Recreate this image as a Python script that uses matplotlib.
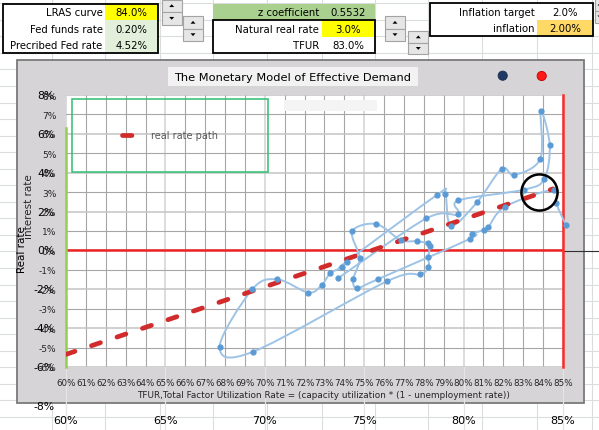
import numpy as np
import matplotlib
matplotlib.use("Agg")
import matplotlib.pyplot as plt
from matplotlib.path import Path
from matplotlib.patches import PathPatch, Rectangle, Circle, Polygon

plt.rcParams['font.family'] = ['DejaVu Sans']

W, H = 599, 431

# ---- chart data (TFUR %, real rate %) ----
tfur = [73.70, 78.13, 79.73, 79.73, 83.05, 84.06, 84.33, 83.88, 83.86, 82.55,
        81.92, 80.69, 79.37, 79.08, 78.68, 74.12, 73.90, 73.30, 72.86, 72.19,
        70.63, 69.37, 67.73, 69.42, 76.16, 77.83, 78.23, 78.23, 78.30, 78.20,
        77.64, 76.83, 75.60, 74.40, 74.77, 74.45, 74.65, 75.71, 80.30, 80.40,
        81.03, 81.24, 82.10, 84.53, 84.65, 85.15]
real_rate = [-1.42, 1.65, 1.85, 2.57, 3.13, 3.69, 5.43, 7.17, 4.72, 3.88,
             4.20, 2.50, 1.27, 2.92, 2.87, -0.57, -0.86, -1.17, -1.78, -2.17,
             -1.49, -2.00, -4.95, -5.21, -1.58, -1.22, -0.83, -0.35, 0.25, 0.38,
             0.47, 0.54, 1.36, 0.98, -0.40, -1.47, -1.93, -1.47, 0.59, 0.84,
             1.06, 1.19, 2.26, 3.13, 2.45, 1.30]

path_x = [60.0, 84.5]          # real rate path
path_y = [-5.35, 3.17]
lras_x = [85.0, 85.0]
lras_y = [-6.0, 8.0]
green_x = [60.0, 60.0]
green_y = [-6.0, 6.3]
circle_x = [83.8]
circle_y = [3.0]

x_ticks = list(range(60, 86))
y_ticks = list(range(-6, 9))
back_y_ticks = list(range(-8, 9, 2))
back_x_ticks = list(range(60, 86, 5))

t1_labels = ["LRAS curve", "Fed funds rate", "Precribed Fed rate"]
t1_values = ["84.0%", "0.20%", "4.52%"]
t2_labels = ["z coefficient", "Natural real rate", "TFUR"]
t2_values = ["0.5532", "3.0%", "83.0%"]
t3_labels = ["Inflation target", "inflation"]
t3_values = ["2.0%", "2.00%"]

fig = plt.figure(figsize=(5.99, 4.31), dpi=100)
bg = fig.add_axes([0, 0, 1, 1])
bg.set_xlim(0, W)
bg.set_ylim(H, 0)
bg.axis('off')

# worksheet grid
for y in np.arange(4.2, H, 16.55):
    bg.plot([0, W], [y, y], color='#dadcdd', lw=0.8, zorder=0)
for x in [51.7, 105, 160, 213.3, 266.7, 321.7, 375, 428.3, 482, 536.7, 591.7]:
    bg.plot([x, x], [0, H], color='#dadcdd', lw=0.8, zorder=0)

fs_cell = 7.3


def table(x0, xs, x1, y0, rh, labels, values, fills, box_from=0):
    for i, (lab, val) in enumerate(zip(labels, values)):
        y = y0 + rh * i
        bg.add_patch(Rectangle((x0, y), xs - x0, rh, fc=fills[i][0], ec='none', zorder=1))
        bg.add_patch(Rectangle((xs, y), x1 - xs, rh, fc=fills[i][1], ec='none', zorder=1))
        bg.text(xs - 2.5, y + rh / 2 + 0.5, lab, ha='right', va='center', fontsize=fs_cell, zorder=2)
        bg.text((xs + x1) / 2, y + rh / 2 + 0.5, val, ha='center', va='center', fontsize=fs_cell, zorder=2)
    yb = y0 + rh * box_from
    bg.add_patch(Rectangle((x0, yb), x1 - x0, rh * (len(labels) - box_from), fill=False,
                           ec='black', lw=1.3, zorder=3))


table(3.3, 105, 158.3, 4.5, 16.5, t1_labels, t1_values,
      [('white', '#ffff00'), ('white', '#e2efda'), ('white', '#e2efda')])
table(213.3, 321.7, 375, 4.5, 16.5, t2_labels, t2_values,
      [('#a9d08e', '#a9d08e'), ('white', '#ffff00'), ('white', 'white')], box_from=1)
table(430, 537.3, 593, 4.2, 16.5, t3_labels, t3_values,
      [('white', 'white'), ('white', '#ffd966')])


def spin(x0, y0, w, h):
    for k, up in enumerate([True, False]):
        yy = y0 + k * h / 2
        bg.add_patch(Rectangle((x0, yy), w, h / 2, fc='#e6e6e6', ec='#a3a3a3', lw=0.8, zorder=2))
        cx, cy = x0 + w / 2, yy + h / 4
        if up:
            tri = [(cx - 2.5, cy + 1.3), (cx + 2.5, cy + 1.3), (cx, cy - 1.5)]
        else:
            tri = [(cx - 2.5, cy - 1.3), (cx + 2.5, cy - 1.3), (cx, cy + 1.5)]
        bg.add_patch(Polygon(tri, closed=True, fc='black', ec='none', zorder=3))


spin(161.7, 0.5, 20, 25)
spin(182.7, 17.3, 20.6, 24.4)
spin(385, 17.3, 20, 24.4)
spin(408.3, 32.3, 20, 22.7)
spin(595, -1, 10, 25)

# chart area
bg.add_patch(Rectangle((16.7, 60.7), 567.6, 343.3, fc='#d6d4d6', ec='#7a7a7a', lw=1.3, zorder=4))
for v in back_x_ticks:
    xp = 66 + (v - 60) * 19.88
    bg.plot([xp, xp], [368, H], color='#e4e4e4', lw=0.9, zorder=4.5)
    bg.text(xp, 421.5, f"{v}%", ha='center', va='center', fontsize=8, zorder=5)
for v in back_y_ticks:
    yp = 251.4 - 19.43 * v
    bg.text(54.5, yp, f"{v}%", ha='right', va='center', fontsize=7.8, zorder=5)
bg.plot([562, W], [251.6, 251.6], color='#303030', lw=0.8, zorder=5)

bg.add_patch(Rectangle((168, 68), 250, 19, fc='#f2f2f2', ec='none', zorder=5))
bg.text(293, 78, "The Monetary Model of Effective Demand", ha='center', va='center',
        fontsize=8.2, zorder=6)
bg.add_patch(Circle((502.7, 76.7), 4.6, fc='#1f3864', ec='#1a2f55', lw=0.6, zorder=6))
bg.add_patch(Circle((541.7, 77), 4.6, fc='#ff1a1a', ec='#c00000', lw=0.6, zorder=6))

bg.text(323, 396, "TFUR,Total Factor Utilization Rate = (capacity utilization * (1 - unemployment rate))",
        ha='center', va='center', fontsize=6.4, color='#262626', zorder=6)
bg.text(22, 250, "Real rate", rotation=90, ha='center', va='center', fontsize=7.5, zorder=6)
bg.text(29.5, 207, "interest rate", rotation=90, ha='center', va='center', fontsize=7.5,
        color='#262626', zorder=6)

# plot area
ax = fig.add_axes([66 / W, 1 - 368 / H, 497 / W, 272 / H])
ax.set_zorder(2)
ax.set_facecolor('white')
for s in ax.spines.values():
    s.set_visible(False)
for v in x_ticks:
    ax.axvline(v, color='#d2d2d2' if v % 5 == 0 else '#a6a6a6',
               lw=1.1 if v % 5 == 0 else 0.8, zorder=1)
for v in y_ticks:
    ax.axhline(v, color='#c4c4c4' if v % 2 == 0 else '#a6a6a6',
               lw=1.1 if v % 2 == 0 else 0.8, zorder=1)

ax.add_patch(Rectangle((284, 100.7), 93, 11, fc='#f4f4f4', ec='none',
                       transform=bg.transData, zorder=1.5))
ax.add_patch(Rectangle((71.7, 100), 196.3, 72.7, fill=False, ec='#2fbf71', lw=1.1,
                       transform=bg.transData, zorder=1.6))

ax.axhline(0, color='#ee2222', lw=1.8, zorder=2)
ax.plot(lras_x, lras_y, color='#ff2a2a', lw=1.8, clip_on=False, zorder=2)
ax.plot(green_x, green_y, color='#92d050', lw=1.8, clip_on=False, zorder=2)


def smooth(xs, ys):
    pts = np.column_stack([xs, ys])
    n = len(pts)
    verts, codes = [pts[0]], [Path.MOVETO]
    for i in range(n - 1):
        p0 = pts[i - 1] if i > 0 else pts[i]
        p1, p2 = pts[i], pts[i + 1]
        p3 = pts[i + 2] if i + 2 < n else pts[i + 1]
        verts += [p1 + (p2 - p0) / 6, p2 - (p3 - p1) / 6, p2]
        codes += [Path.CURVE4] * 3
    return Path(verts, codes)


ax.add_patch(PathPatch(smooth(tfur, real_rate), fc='none', ec='#9dc3e6', lw=1.4,
                       clip_on=False, zorder=3))
red, = ax.plot(path_x, path_y, color='#d12b2b', lw=3.4, dashes=(2.0, 3.7),
               dash_capstyle='round', label='real rate path', zorder=3.5)
ax.plot(tfur, real_rate, 'o', ms=3.5, color='#5b9bd5', mec='#5b9bd5', clip_on=False, zorder=4)
ax.plot(circle_x, circle_y, 'o', ms=26, mfc='none', mec='black', mew=1.8,
        clip_on=False, zorder=5)

ax.set_xlim(60, 85)
ax.set_ylim(-6, 8)
ax.set_xticks(x_ticks)
ax.set_xticklabels([f"{v}%" for v in x_ticks], fontsize=6.3, color='#262626')
ax.set_yticks(y_ticks)
ax.set_yticklabels([f"{v}%" for v in y_ticks], fontsize=6.6, color='#262626')
ax.tick_params(length=0)
ax.tick_params(axis='x', pad=8)
ax.tick_params(axis='y', pad=7)

leg = ax.legend(handles=[red], loc='center', bbox_to_anchor=(170 / W, 1 - 136.4 / H),
                bbox_transform=fig.transFigure, frameon=False, fontsize=7,
                handlelength=1.5, handletextpad=1.5, labelcolor='#595959')

fig.savefig('out.png', dpi=100)
